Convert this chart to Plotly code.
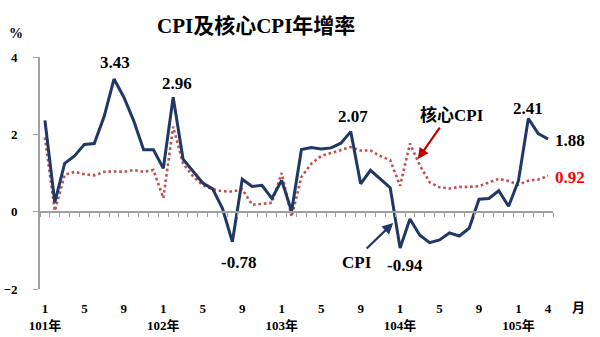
import plotly.graph_objects as go

# Monthly year-over-year growth (%), Jan 101 (2012) through Apr 105 (2016)
cpi = [2.36, 0.24, 1.25, 1.44, 1.74, 1.76, 2.46, 3.43, 2.96, 2.35, 1.60, 1.60,
       1.12, 2.96, 1.36, 1.05, 0.74, 0.59, 0.08, -0.78, 0.84, 0.65, 0.68, 0.34,
       0.81, 0.01, 1.61, 1.66, 1.62, 1.65, 1.77, 2.07, 0.72, 1.07, 0.85, 0.62,
       -0.94, -0.19, -0.61, -0.80, -0.73, -0.55, -0.63, -0.43, 0.32, 0.34, 0.54, 0.14,
       0.80, 2.41, 2.02, 1.88]
core = [1.92, 0.02, 0.95, 1.03, 0.97, 0.94, 1.03, 1.04, 1.03, 1.08, 1.03, 1.08,
        0.35, 2.20, 1.24, 0.92, 0.68, 0.58, 0.53, 0.52, 0.58, 0.18, 0.20, 0.23,
        1.00, -0.13, 0.90, 1.24, 1.44, 1.52, 1.58, 1.67, 1.58, 1.58, 1.44, 1.33,
        0.67, 1.76, 1.20, 0.76, 0.63, 0.60, 0.64, 0.64, 0.66, 0.75, 0.85, 0.79,
        0.70, 0.80, 0.83, 0.92]

month_ticks = [0, 4, 8, 12, 16, 20, 24, 28, 32, 36, 40, 44, 48, 51]
month_text = ["1<br>101年", "5", "9", "1<br>102年", "5", "9", "1<br>103年", "5", "9",
              "1<br>104年", "5", "9", "1<br>105年", "4"]
y_ticks = [-2, 0, 2, 4]

x = list(range(len(cpi)))
n = len(cpi)

NAVY = "#1f3864"
RED = "#c0504d"
AXIS = "#a0a0a0"
FONT = "Liberation Serif, Times New Roman, Noto Sans CJK TC, serif"

fig = go.Figure()
fig.add_trace(go.Scatter(x=x, y=core, mode="lines", name="核心CPI",
                         line=dict(color=RED, width=2.6, dash="2.6px,2.8px")))
fig.add_trace(go.Scatter(x=x, y=cpi, mode="lines", name="CPI",
                         line=dict(color=NAVY, width=3)))


def label(i, series, dx=0, dy=0, color="black", anchor="center"):
    fig.add_annotation(x=i, y=series[i], text=f"<b>{series[i]:.2f}</b>",
                       showarrow=False, xshift=dx, yshift=dy, xanchor=anchor,
                       font=dict(family=FONT, size=17, color=color))


label(7, cpi, dx=1, dy=17)
label(13, cpi, dx=4, dy=14)
label(19, cpi, dx=6, dy=-21)
label(31, cpi, dx=2, dy=15)
label(36, cpi, dx=5, dy=-17)
label(49, cpi, dx=0, dy=10)
label(51, cpi, dx=5, dy=-2, anchor="left")
label(51, core, dx=5, dy=-1, anchor="left", color="#ff0000")

# Callouts naming the two series
fig.add_annotation(x=37.8, y=1.36, ax=23, ay=-33, text="", showarrow=True,
                   arrowhead=2, arrowsize=1, arrowwidth=2.2, arrowcolor="#c00000")
fig.add_annotation(x=37.8, y=1.36, text="<b>核心CPI</b>", showarrow=False,
                   xshift=34, yshift=44, font=dict(family=FONT, size=17, color="black"))
fig.add_annotation(x=35.3, y=-0.29, ax=-28, ay=27, text="", showarrow=True,
                   arrowhead=2, arrowsize=1, arrowwidth=2.2, arrowcolor=NAVY)
fig.add_annotation(x=35.3, y=-0.29, text="<b>CPI</b>", showarrow=False,
                   xshift=-36, yshift=-40, font=dict(family=FONT, size=17, color="black"))

# Unit labels
fig.add_annotation(xref="paper", yref="paper", x=-0.046, y=1.103, text="<b>%</b>",
                   showarrow=False, xanchor="center", yanchor="middle",
                   font=dict(family=FONT, size=14, color="black"))
fig.add_annotation(xref="paper", yref="paper", x=1.05, y=-0.075, text="<b>月</b>",
                   showarrow=False, xanchor="center", yanchor="middle",
                   font=dict(family="Noto Sans CJK TC", size=13, color="black"))

fig.update_layout(
    width=600, height=337,
    margin=dict(l=40, r=47, t=57, b=48),
    paper_bgcolor="white", plot_bgcolor="white",
    showlegend=False,
    title=dict(text="<b>CPI及核心CPI年增率</b>", x=0.427, xanchor="center",
               y=0.923, yanchor="middle",
               font=dict(family=FONT, size=21, color="black")),
    xaxis=dict(range=[-0.5, n - 0.5], anchor="free", position=1 / 3,
               showline=True, linecolor=AXIS, linewidth=2, automargin=False,
               ticks="outside", ticklen=4, tickwidth=1, tickcolor=AXIS,
               tickvals=[i - 0.5 for i in range(n + 1)],
               showticklabels=False, showgrid=False, zeroline=False),
    xaxis2=dict(range=[-0.5, n - 0.5], overlaying="x", anchor="y", side="bottom",
                showline=False, ticks="", tickvals=month_ticks, ticktext=month_text,
                ticklabelstandoff=10, showgrid=False, zeroline=False, automargin=False,
                tickfont=dict(family=FONT, size=13, color="black", weight="bold")),
    yaxis=dict(range=[-2, 4], tickvals=y_ticks, showline=True, linecolor=AXIS,
               linewidth=2, ticks="outside", ticklen=5, tickwidth=1, tickcolor=AXIS,
               ticklabelstandoff=13, showgrid=False, zeroline=False, automargin=False,
               tickfont=dict(family=FONT, size=13, color="black", weight="bold")),
)
# xaxis2 carries only tick labels; give it an invisible trace so it is laid out
fig.add_trace(go.Scatter(x=[0], y=[0], xaxis="x2", mode="markers",
                         marker=dict(opacity=0), hoverinfo="skip"))

fig.write_html("out.html")
